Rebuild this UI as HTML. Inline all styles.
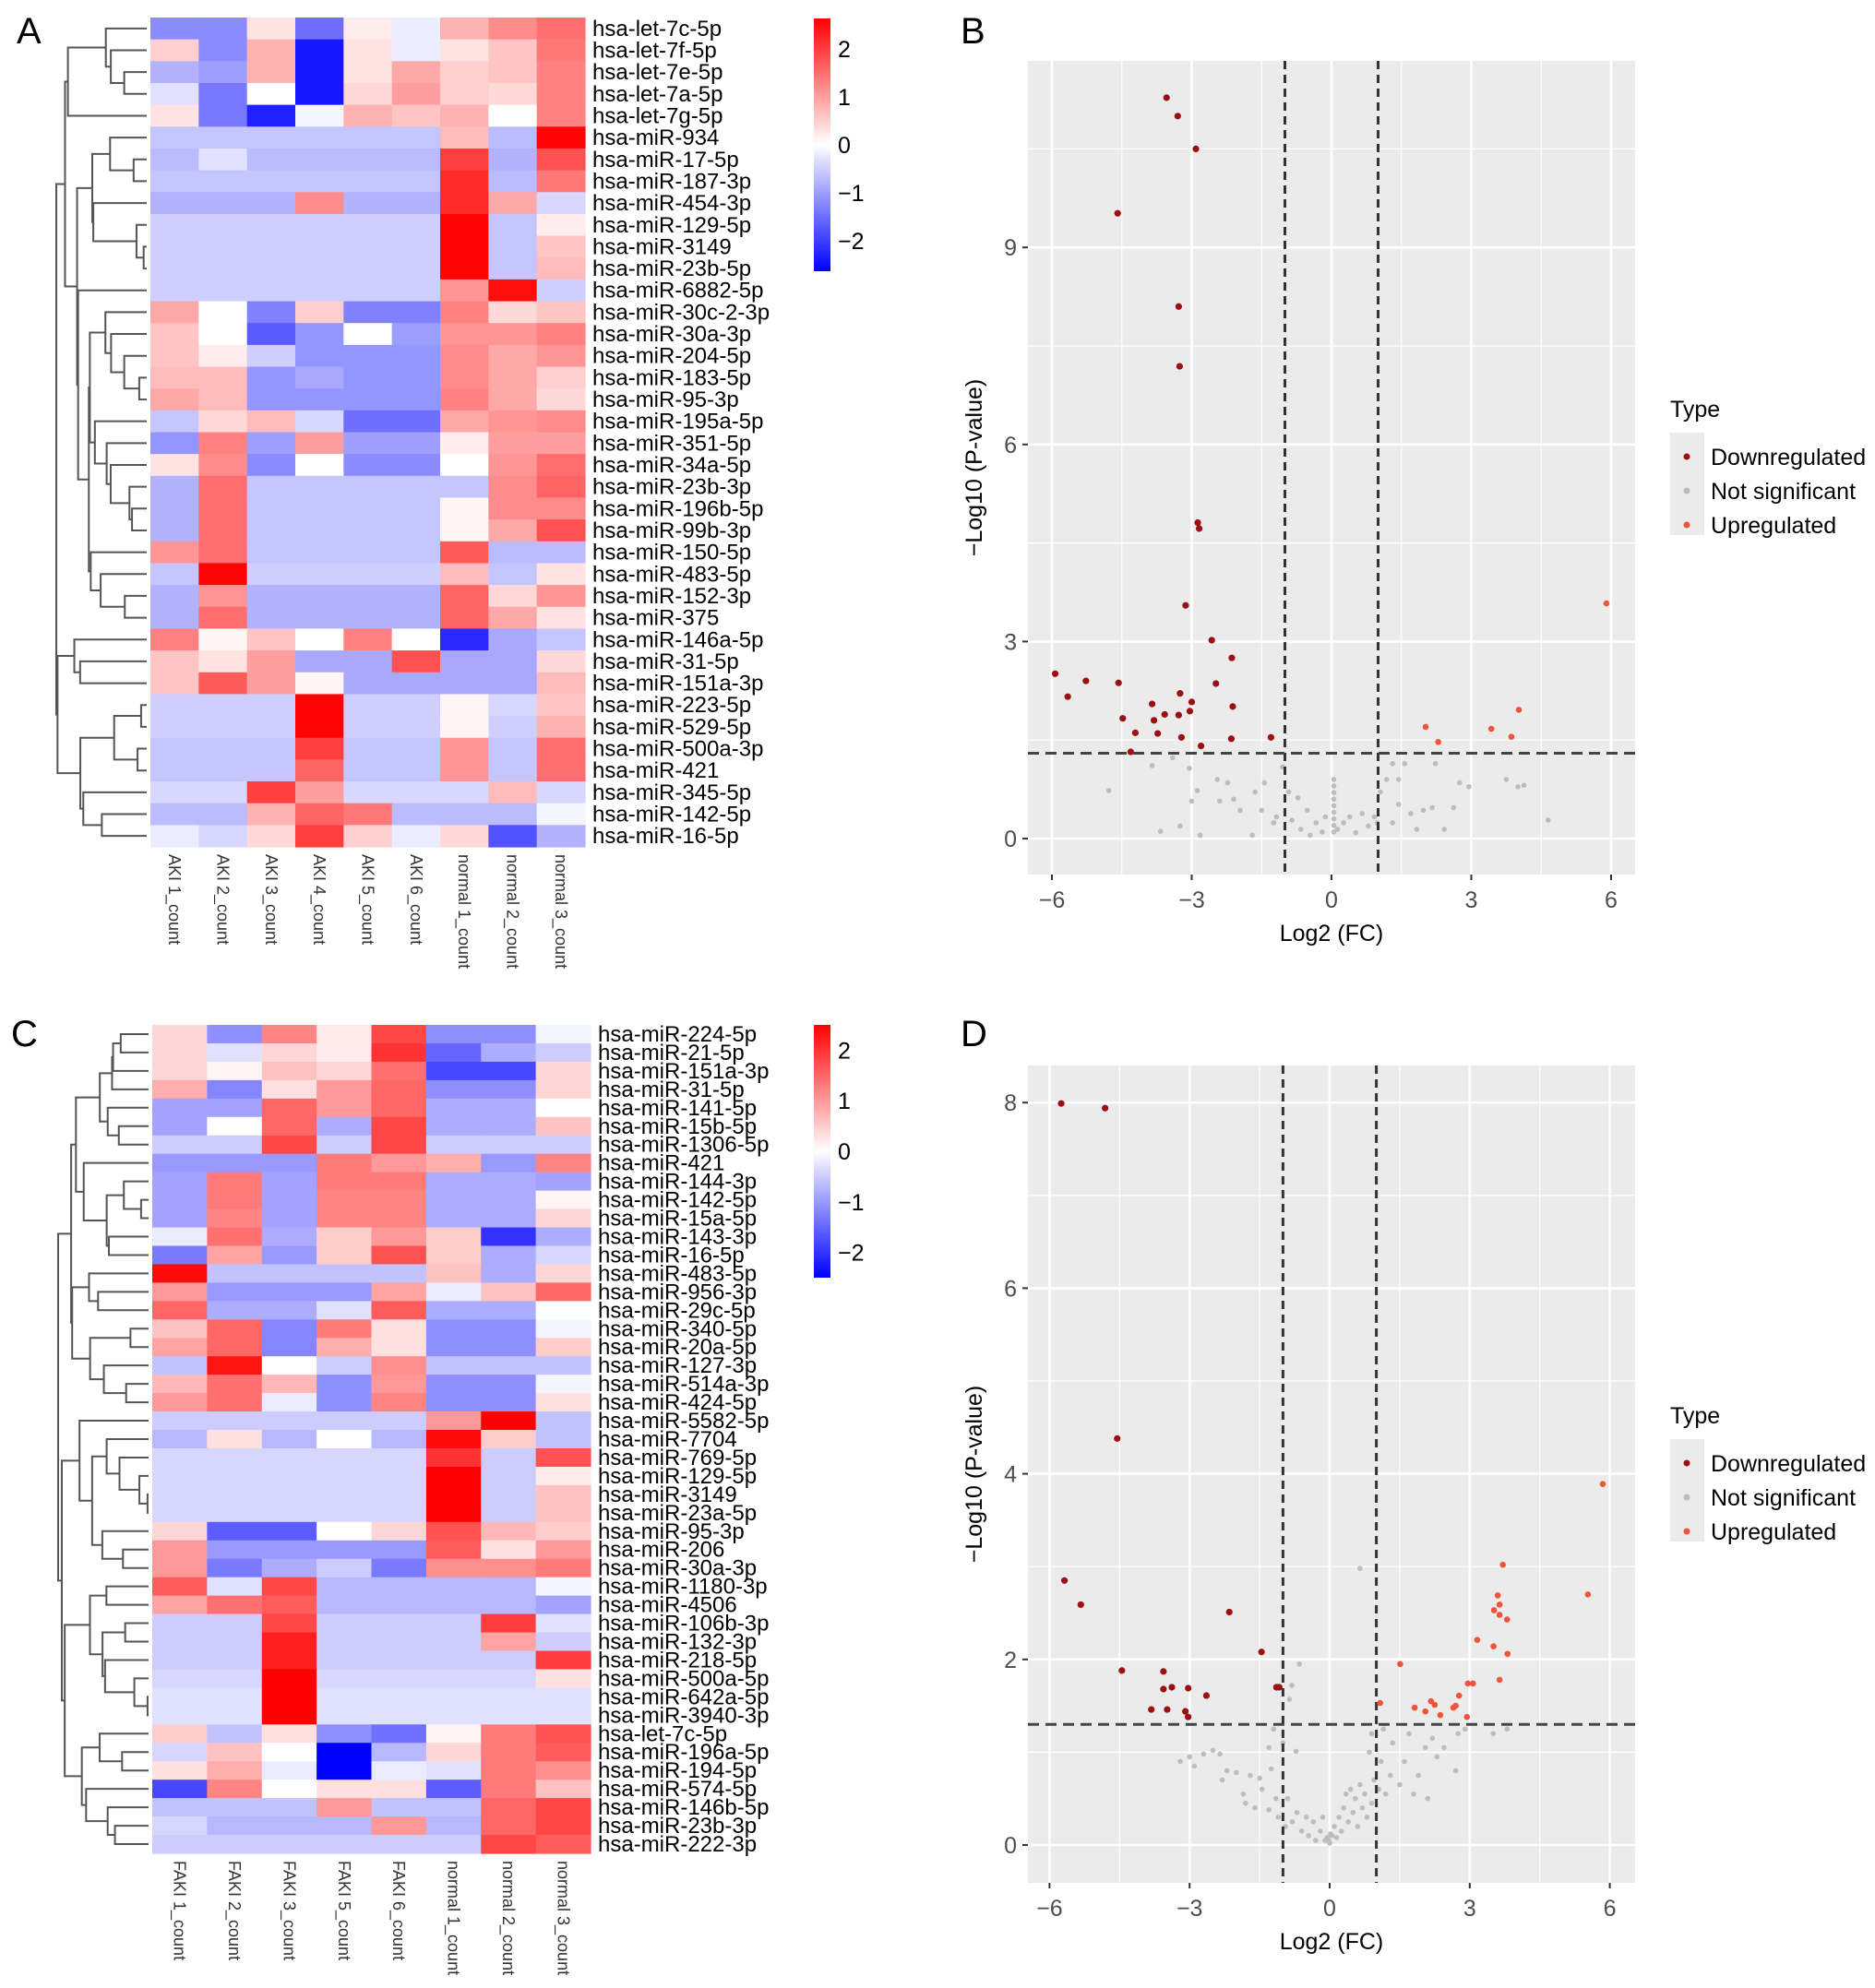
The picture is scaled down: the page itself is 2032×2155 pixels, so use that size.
<!DOCTYPE html>
<html><head><meta charset="utf-8"><title>miRNA heatmaps and volcano plots</title>
<style>
html,body{margin:0;padding:0;background:#fff;}
svg{display:block;font-family:"Liberation Sans",Arial,sans-serif;}
</style></head>
<body>
<svg id="fig" width="2032" height="2155" viewBox="0 0 2032 2155" xmlns="http://www.w3.org/2000/svg">
<text x="18" y="47" font-size="40">A</text>
<text x="1041" y="47" font-size="40">B</text>
<text x="12" y="1134" font-size="40">C</text>
<text x="1041" y="1134" font-size="40">D</text>
<g id="gA"></g>
<g id="gC"></g>
<g id="gB"></g>
<g id="gD"></g>
</svg>
<script>
// ---------- Heatmap A data ----------
const rowsA = ["hsa-let-7c-5p","hsa-let-7f-5p","hsa-let-7e-5p","hsa-let-7a-5p","hsa-let-7g-5p","hsa-miR-934","hsa-miR-17-5p","hsa-miR-187-3p","hsa-miR-454-3p","hsa-miR-129-5p","hsa-miR-3149","hsa-miR-23b-5p","hsa-miR-6882-5p","hsa-miR-30c-2-3p","hsa-miR-30a-3p","hsa-miR-204-5p","hsa-miR-183-5p","hsa-miR-95-3p","hsa-miR-195a-5p","hsa-miR-351-5p","hsa-miR-34a-5p","hsa-miR-23b-3p","hsa-miR-196b-5p","hsa-miR-99b-3p","hsa-miR-150-5p","hsa-miR-483-5p","hsa-miR-152-3p","hsa-miR-375","hsa-miR-146a-5p","hsa-miR-31-5p","hsa-miR-151a-3p","hsa-miR-223-5p","hsa-miR-529-5p","hsa-miR-500a-3p","hsa-miR-421","hsa-miR-345-5p","hsa-miR-142-5p","hsa-miR-16-5p"];
const colsA = ["AKI 1_count","AKI 2_count","AKI 3_count","AKI 4_count","AKI 5_count","AKI 6_count","normal 1_count","normal 2_count","normal 3_count"];
const valsA = [
[-1.2,-1.2,0.3,-1.5,0.2,-0.2,0.8,1.2,1.5],
[0.5,-1.2,0.8,-2.4,0.3,-0.2,0.3,0.6,1.4],
[-0.8,-1,0.8,-2.4,0.3,0.9,0.5,0.6,1.3],
[-0.3,-1.4,0,-2.4,0.4,1.0,0.5,0.4,1.3],
[0.3,-1.4,-2.3,-0.1,0.8,0.6,0.8,0,1.3],
[-0.6,-0.6,-0.6,-0.6,-0.6,-0.6,0.7,-0.7,2.6],
[-0.7,-0.3,-0.7,-0.7,-0.7,-0.7,2.0,-0.8,1.8],
[-0.6,-0.6,-0.6,-0.6,-0.6,-0.6,2.2,-0.7,1.4],
[-0.8,-0.8,-0.8,1.2,-0.8,-0.8,2.2,0.9,-0.4],
[-0.5,-0.5,-0.5,-0.5,-0.5,-0.5,2.6,-0.6,0.2],
[-0.5,-0.5,-0.5,-0.5,-0.5,-0.5,2.6,-0.6,0.6],
[-0.5,-0.5,-0.5,-0.5,-0.5,-0.5,2.6,-0.6,0.7],
[-0.5,-0.5,-0.5,-0.5,-0.5,-0.5,1.1,2.5,-0.5],
[0.9,0,-1.3,0.5,-1.3,-1.3,1.3,0.4,0.6],
[0.6,0,-1.7,-1.1,0,-1.0,1.1,1.1,1.3],
[0.6,0.2,-0.5,-1.1,-1.1,-1.1,1.2,0.9,1.1],
[0.7,0.7,-1.1,-0.9,-1.1,-1.1,1.2,0.9,0.5],
[0.9,0.7,-1.1,-1.1,-1.1,-1.1,1.3,0.9,0.4],
[-0.6,0.4,0.7,-0.4,-1.5,-1.5,0.9,1.1,1.2],
[-1.1,1.3,-1.0,1.0,-1.0,-1.0,0.2,1.0,1.0],
[0.3,1.2,-1.2,0,-1.2,-1.2,0,1.1,1.5],
[-0.8,1.5,-0.6,-0.6,-0.6,-0.6,-0.6,1.2,1.6],
[-0.8,1.5,-0.6,-0.6,-0.6,-0.6,0.1,1.2,1.2],
[-0.8,1.5,-0.6,-0.6,-0.6,-0.6,0.1,0.9,1.8],
[1.1,1.5,-0.6,-0.6,-0.6,-0.6,1.7,-0.7,-0.7],
[-0.6,2.6,-0.5,-0.5,-0.5,-0.5,0.7,-0.6,0.3],
[-0.8,1.1,-0.8,-0.8,-0.8,-0.8,1.6,0.4,1.1],
[-0.8,1.5,-0.8,-0.8,-0.8,-0.8,1.6,0.9,0.3],
[1.3,0.1,0.6,0,1.3,0,-2.2,-0.9,-0.6],
[0.6,0.3,1.0,-0.9,-0.9,1.8,-0.9,-0.9,0.4],
[0.6,1.7,1.0,0.1,-0.9,-0.9,-0.9,-0.9,0.7],
[-0.5,-0.5,-0.5,2.6,-0.5,-0.5,0.1,-0.4,0.6],
[-0.5,-0.5,-0.5,2.6,-0.5,-0.5,0.1,-0.5,0.8],
[-0.6,-0.6,-0.6,2.0,-0.6,-0.6,1.1,-0.6,1.5],
[-0.6,-0.6,-0.6,1.6,-0.6,-0.6,1.1,-0.6,1.5],
[-0.4,-0.4,2.0,1.0,-0.4,-0.4,-0.4,0.7,-0.4],
[-0.7,-0.7,0.8,1.6,1.4,-0.7,-0.7,-0.7,-0.1],
[-0.2,-0.4,0.4,2.0,0.5,-0.2,0.4,-1.8,-0.8]];
// ---------- Heatmap C data ----------
const rowsC = ["hsa-miR-224-5p","hsa-miR-21-5p","hsa-miR-151a-3p","hsa-miR-31-5p","hsa-miR-141-5p","hsa-miR-15b-5p","hsa-miR-1306-5p","hsa-miR-421","hsa-miR-144-3p","hsa-miR-142-5p","hsa-miR-15a-5p","hsa-miR-143-3p","hsa-miR-16-5p","hsa-miR-483-5p","hsa-miR-956-3p","hsa-miR-29c-5p","hsa-miR-340-5p","hsa-miR-20a-5p","hsa-miR-127-3p","hsa-miR-514a-3p","hsa-miR-424-5p","hsa-miR-5582-5p","hsa-miR-7704","hsa-miR-769-5p","hsa-miR-129-5p","hsa-miR-3149","hsa-miR-23a-5p","hsa-miR-95-3p","hsa-miR-206","hsa-miR-30a-3p","hsa-miR-1180-3p","hsa-miR-4506","hsa-miR-106b-3p","hsa-miR-132-3p","hsa-miR-218-5p","hsa-miR-500a-5p","hsa-miR-642a-5p","hsa-miR-3940-3p","hsa-let-7c-5p","hsa-miR-196a-5p","hsa-miR-194-5p","hsa-miR-574-5p","hsa-miR-146b-5p","hsa-miR-23b-3p","hsa-miR-222-3p"];
const colsC = ["FAKI 1_count","FAKI 2_count","FAKI 3_count","FAKI 5_count","FAKI 6_count","normal 1_count","normal 2_count","normal 3_count"];
const valsC = [
[0.4,-1.1,1.2,0.2,1.8,-1.1,-1.1,-0.1],
[0.4,-0.3,0.4,0.2,2.0,-1.5,-0.8,-0.5],
[0.4,0.1,0.6,0.4,1.4,-1.8,-1.8,0.4],
[0.8,-1.2,0.3,1.0,1.5,-1.1,-1.1,0.4],
[-0.9,-0.9,1.5,1.0,1.5,-0.8,-0.8,0],
[-0.9,0,1.5,-0.8,1.8,-0.8,-0.8,0.6],
[-0.5,-0.5,1.8,-0.5,1.8,-0.5,-0.5,-0.5],
[-1.0,-1.0,-1.0,1.3,1.0,0.8,-1.0,1.2],
[-0.9,1.3,-0.9,1.3,1.3,-0.8,-0.8,-0.9],
[-0.9,1.3,-0.9,1.2,1.2,-0.8,-0.8,0.1],
[-0.9,1.2,-0.9,1.2,1.2,-0.8,-0.8,0.4],
[-0.2,1.4,-0.8,0.5,1.0,0.5,-2.0,-0.8],
[-1.3,0.9,-1.0,0.5,1.7,0.5,-0.8,-0.4],
[2.4,-0.6,-0.6,-0.6,-0.6,0.6,-0.8,0.4],
[1.0,-1.0,-1.0,-1.0,0.9,-0.2,0.6,1.5],
[1.5,-0.8,-0.8,-0.3,1.6,-0.8,-0.8,0],
[0.6,1.5,-1.2,1.3,0.3,-1.1,-1.1,-0.1],
[0.9,1.5,-1.2,0.8,0.3,-1.1,-1.1,0.5],
[-0.6,2.3,0,-0.5,1.1,-0.6,-0.6,-0.6],
[0.7,1.4,0.7,-1.1,1.0,-1.1,-1.1,-0.1],
[1.0,1.4,-0.2,-1.1,1.2,-1.1,-1.1,0.3],
[-0.5,-0.5,-0.5,-0.5,-0.5,1.0,2.5,-0.6],
[-0.7,0.3,-0.7,0,-0.7,2.4,0.5,-0.6],
[-0.4,-0.4,-0.4,-0.4,-0.4,2.0,-0.5,1.7],
[-0.4,-0.4,-0.4,-0.4,-0.4,2.6,-0.5,0.2],
[-0.4,-0.4,-0.4,-0.4,-0.4,2.6,-0.5,0.6],
[-0.4,-0.4,-0.4,-0.4,-0.4,2.6,-0.5,0.6],
[0.4,-1.6,-1.6,0,0.4,1.7,0.7,0.5],
[1.0,-1.0,-1.0,-1.0,-1.0,1.6,0.3,1.0],
[1.0,-1.3,-0.8,-0.5,-1.3,1.1,1.1,1.3],
[1.6,-0.3,1.8,-0.7,-0.7,-0.7,-0.7,-0.1],
[0.9,1.4,1.6,-0.7,-0.7,-0.7,-0.7,-0.9],
[-0.5,-0.5,1.8,-0.5,-0.5,-0.5,1.9,-0.3],
[-0.5,-0.5,2.2,-0.5,-0.5,-0.5,0.9,-0.5],
[-0.5,-0.5,2.2,-0.5,-0.5,-0.5,-0.5,1.9],
[-0.4,-0.4,2.6,-0.4,-0.4,-0.4,-0.4,0.3],
[-0.3,-0.3,2.6,-0.3,-0.3,-0.3,-0.3,-0.3],
[-0.3,-0.3,2.6,-0.3,-0.3,-0.3,-0.3,-0.3],
[0.5,-0.6,0.3,-1.1,-1.4,0.1,1.3,1.7],
[-0.4,0.6,0,-2.5,-0.7,0.4,1.3,1.6],
[0.3,0.8,-0.2,-2.5,-0.2,-0.3,1.3,1.1],
[-1.8,1.2,0,0.3,0.3,-1.6,1.3,0.6],
[-0.6,-0.6,-0.6,1.0,-0.6,-0.6,1.5,1.8],
[-0.4,-0.7,-0.7,-0.7,1.0,-0.7,1.5,1.8],
[-0.5,-0.5,-0.5,-0.5,-0.5,-0.5,1.8,1.6]];
const colorTicks = [2,1,0,-1,-2];
const colorTicksC = [2,1,0,-1,-2];

// ---------- Volcano B data ----------
const downB_x = [-3.54,-3.30,-2.91,-4.59,-3.28,-3.26,-2.87,-2.84,-3.13,-2.57,-2.14,-5.93,-5.27,-4.57,-2.48,-5.66,-3.25,-3.0,-3.85,-2.12,-3.04,-3.58,-3.28,-4.48,-3.81,-4.21,-3.73,-3.22,-2.15,-1.30,-2.80,-4.31];
const downB_y = [11.28,11.0,10.5,9.52,8.1,7.19,4.81,4.72,3.55,3.02,2.75,2.51,2.40,2.37,2.36,2.16,2.21,2.08,2.05,2.01,1.94,1.89,1.88,1.83,1.80,1.61,1.60,1.54,1.52,1.54,1.41,1.32];
const upB_x = [5.90,4.02,2.02,3.43,2.29,3.86];
const upB_y = [3.58,1.96,1.70,1.67,1.47,1.55];
const nsB_x = [-4.78,-3.85,-3.67,-3.41,-3.25,-3.05,-3.0,-2.88,-2.82,-2.45,-2.4,-2.23,-2.1,-1.96,-1.7,-1.64,-1.5,-1.44,-1.24,-1.18,-1.05,-0.92,-0.85,-0.72,-0.66,-0.52,-0.46,-0.33,-0.2,-0.13,0.05,0.05,0.05,0.05,0.05,0.05,0.05,0.05,0.05,0.13,0.26,0.39,0.52,0.66,0.79,0.92,1.05,1.18,1.31,1.44,1.57,1.70,1.83,1.97,2.16,2.23,2.42,2.62,2.75,2.95,3.75,4.0,4.13,4.65,1.44,1.31,0.98];
const nsB_y = [0.73,1.11,0.11,1.23,0.19,1.07,0.57,0.73,0.05,0.9,0.57,0.85,0.6,0.43,0.05,0.71,0.43,0.85,0.24,0.33,1.09,0.71,0.28,0.62,0.14,0.43,0.05,0.24,0.1,0.33,0.1,0.2,0.3,0.4,0.5,0.6,0.7,0.8,0.9,0.14,0.24,0.33,0.09,0.38,0.19,0.33,0.71,0.9,1.14,0.9,1.14,0.38,0.14,0.43,0.47,1.14,0.14,0.47,0.85,0.79,0.9,0.79,0.81,0.28,0.52,0.24,0.24];
// ---------- Volcano D data ----------
const downD_x = [-5.75,-4.81,-4.55,-5.68,-5.33,-2.15,-1.46,-4.45,-3.56,-3.56,-3.38,-3.03,-2.64,-1.14,-1.08,-3.82,-3.48,-3.09,-3.03];
const downD_y = [7.99,7.94,4.38,2.85,2.59,2.51,2.08,1.88,1.87,1.68,1.70,1.69,1.61,1.70,1.70,1.46,1.46,1.44,1.38];
const upD_x = [5.85,3.71,5.53,3.60,3.64,3.52,3.64,3.80,3.16,3.51,3.81,1.51,2.96,3.07,3.64,2.77,2.70,2.65,2.17,2.25,1.08,1.82,2.05,2.37,2.94];
const upD_y = [3.89,3.02,2.70,2.69,2.59,2.53,2.48,2.43,2.21,2.14,2.06,1.95,1.74,1.74,1.78,1.61,1.50,1.48,1.55,1.51,1.53,1.48,1.44,1.40,1.38];
const nsD_x = [-3.2,-3.0,-2.9,-2.7,-2.5,-2.35,-2.3,-2.2,-2.0,-1.85,-1.8,-1.7,-1.6,-1.5,-1.45,-1.3,-1.25,-1.2,-1.15,-1.3,-1.1,-0.95,-0.9,-0.8,-0.7,-0.6,-0.5,-0.45,-0.35,-0.3,-0.2,-0.15,-0.1,0,0.05,0.1,0.15,0.2,0.25,0.3,0.35,0.4,0.45,0.5,0.55,0.6,0.65,0.7,0.75,0.8,0.9,0.95,1.05,1.1,1.2,1.3,1.35,1.5,1.6,1.7,1.8,1.9,2.05,2.1,2.2,2.3,2.45,2.7,2.75,2.9,3.5,3.8,0.65,-0.65,-0.81,-0.86,-0.72,0.9,0.85,-1.0,1.15,-0.05,0.02,-0.02];
const nsD_y = [0.9,0.95,0.85,0.98,1.02,0.98,0.7,0.8,0.78,0.55,0.45,0.75,0.4,0.72,0.6,0.38,0.82,1.25,0.5,1.05,0.3,0.2,0.5,0.25,0.35,0.15,0.3,0.1,0.25,0.05,0.15,0.3,0.05,0.02,0.1,0.2,0.08,0.3,0.15,0.4,0.55,0.25,0.6,0.35,0.5,0.2,0.65,0.4,0.55,0.3,0.45,0.7,0.6,0.9,0.55,0.75,1.1,0.65,0.9,1.2,0.55,0.75,1.05,0.5,1.15,0.95,1.05,0.8,1.2,1.25,1.2,1.25,2.98,1.95,1.72,1.57,1.01,1.2,1.0,1.1,1.25,0.08,0.12,0.05];
const ticksB_y = [0,3,6,9];
const ticksD_y = [0,2,4,6,8];
const ticks_x = [-6,-3,0,3,6];
const legendLabels = ["Downregulated","Not significant","Upregulated"];

const NS = "http://www.w3.org/2000/svg";
function mk(tag, attrs, parent){const e=document.createElementNS(NS,tag);for(const k in attrs)e.setAttribute(k,attrs[k]);parent.appendChild(e);return e;}
function heatColor(v, vmax){
  let t=Math.max(-1,Math.min(1,v/vmax));
  let r,g,b;
  if(t>=0){r=255;g=Math.round(255*(1-t));b=g;}else{b=255;r=Math.round(255*(1+t));g=r;}
  return `rgb(${r},${g},${b})`;
}
function drawHeatmap(g, rows, cols, vals, o){
  const nr=rows.length,nc=cols.length,cw=o.w/nc,rh=o.h/nr;
  const xs=c=>o.x+c*cw, ys=r=>o.y+r*rh;
  for(let r=0;r<nr;r++){for(let c=0;c<nc;c++){
    const e=mk('rect',{x:xs(c),y:ys(r),width:cw+0.6,height:rh+0.6,fill:heatColor(vals[r][c],o.vmax)},g);
    
    
  }}
  rows.forEach((lab,r)=>{const t=mk('text',{x:o.x+o.w+8,y:ys(r)+rh/2+8,'font-size':o.fs},g);t.textContent=lab;
    
    });
  cols.forEach((lab,c)=>{const cx=xs(c)+cw/2-6;const t=mk('text',{x:0,y:0,'font-size':18,fill:'#333',transform:`translate(${cx},${o.y+o.h+8}) rotate(90)`},g);t.textContent=lab;
    
    });
  // dendrogram: adjacency-constrained average-linkage clustering
  let cl=rows.map((_,i)=>({m:[i],y:ys(i)+rh/2,h:0}));
  const dist=(a,b)=>{let s=0,n=0;for(const i of a.m)for(const j of b.m){let d=0;for(let c=0;c<nc;c++){const q=vals[i][c]-vals[j][c];d+=q*q;}s+=Math.sqrt(d);n++;}return s/n;};
  const links=[];let maxh=0;
  while(cl.length>1){let bi=0,bd=1e9;for(let i=0;i<cl.length-1;i++){const d=dist(cl[i],cl[i+1]);if(d<bd){bd=d;bi=i;}}
    const a=cl[bi],b=cl[bi+1];const h=Math.max(bd,a.h,b.h)+0.05;maxh=Math.max(maxh,h);
    const n={m:a.m.concat(b.m),y:(a.y+b.y)/2,h:h};links.push([a,b,n]);cl.splice(bi,2,n);}
  const dx=h=>o.x-4-(h/maxh)*o.dw;
  for(const [a,b,n] of links){
    const p=mk('path',{d:`M${dx(a.h)},${a.y}H${dx(n.h)}V${b.y}H${dx(b.h)}`,fill:'none',stroke:'#555','stroke-width':2},g);
    
    
  }
  // colour bar
  const defs=mk('defs',{},g);const gid='grad'+o.id;
  const lg=mk('linearGradient',{id:gid,x1:0,y1:0,x2:0,y2:1},defs);
  [[0,'#ff0000'],[0.5,'#ffffff'],[1,'#0000ff']].forEach(s=>mk('stop',{offset:s[0],'stop-color':s[1]},lg));
  const cb=mk('rect',{x:o.cbx,y:o.cby0,width:18,height:o.cby1-o.cby0,fill:`url(#${gid})`},g);
  
  
  const cmid=(o.cby0+o.cby1)/2,cunit=(o.cby1-o.cby0)/2/o.vmax;
  o.ticks.forEach(v=>{const t=mk('text',{x:o.cbx+26,y:cmid-v*cunit+9,'font-size':25},g);t.textContent=v<0?'\u2212'+(-v):String(v);
    
    });
}
drawHeatmap(document.getElementById('gA'),rowsA,colsA,valsA,{id:'A',x:163,y:19,w:471,h:899,fs:24,vmax:2.64,dw:98,cbx:882,cby0:20,cby1:294,ticks:colorTicks});
drawHeatmap(document.getElementById('gC'),rowsC,colsC,valsC,{id:'C',x:165,y:1111,w:475,h:898,fs:24,vmax:2.5,dw:98,cbx:882,cby0:1111,cby1:1385,ticks:colorTicksC});

function drawVolcano(g,o){
  const X=v=>o.x0+v*o.xu, Y=v=>o.y0-v*o.yu;
  const bg=mk('rect',{x:o.l,y:o.t,width:o.r-o.l,height:o.b-o.t,fill:'#ebebeb'},g);
  
  
  o.minorY.forEach(v=>mk('line',{x1:o.l,x2:o.r,y1:Y(v),y2:Y(v),stroke:'#fff','stroke-width':1.2},g));
  [-4.5,-1.5,1.5,4.5].forEach(v=>mk('line',{x1:X(v),x2:X(v),y1:o.t,y2:o.b,stroke:'#fff','stroke-width':1.2},g));
  o.ticksY.forEach(v=>{mk('line',{x1:o.l,x2:o.r,y1:Y(v),y2:Y(v),stroke:'#fff','stroke-width':2.6},g);
    mk('line',{x1:o.l-6,x2:o.l,y1:Y(v),y2:Y(v),stroke:'#333','stroke-width':2},g);
    const t=mk('text',{x:o.l-12,y:Y(v)+9,'font-size':25,fill:'#4d4d4d','text-anchor':'end'},g);t.textContent=v;
    
    });
  ticks_x.forEach(v=>{mk('line',{x1:X(v),x2:X(v),y1:o.t,y2:o.b,stroke:'#fff','stroke-width':2.6},g);
    mk('line',{x1:X(v),x2:X(v),y1:o.b,y2:o.b+6,stroke:'#333','stroke-width':2},g);
    const t=mk('text',{x:X(v),y:o.b+36,'font-size':25,fill:'#4d4d4d','text-anchor':'middle'},g);t.textContent=v<0?'\u2212'+(-v):String(v);
    
    });
  const pts=(xs,ys,col,r,name)=>xs.forEach((x,i)=>{const c=mk('circle',{cx:X(x),cy:Y(ys[i]),r:r,fill:col},g);
    
    });
  pts(o.nsx,o.nsy,'#bdbdbd',2.8,'point-not-significant');
  [-1,1].forEach(v=>{const l=mk('line',{x1:X(v),x2:X(v),y1:o.t,y2:o.b,stroke:'#333','stroke-width':3,'stroke-dasharray':'9,6'},g);
    
    });
  const hl=mk('line',{x1:o.l,x2:o.r,y1:Y(1.3),y2:Y(1.3),stroke:'#444','stroke-width':3,'stroke-dasharray':'12,7'},g);
  
  
  pts(o.dx,o.dy,'#9b1010',3.6,'point-downregulated');
  pts(o.ux,o.uy,'#f0543a',3.3,'point-upregulated');
  const xt=mk('text',{x:(o.l+o.r)/2,y:o.b+72,'font-size':25,'text-anchor':'middle'},g);xt.textContent='Log2 (FC)';
  
  
  const yt=mk('text',{x:0,y:0,'font-size':25,'text-anchor':'middle',transform:`translate(${o.l-50},${(o.t+o.b)/2}) rotate(-90)`},g);yt.textContent='\u2212Log10 (P-value)';
  
  
  const lt=mk('text',{x:1810,y:o.legY,'font-size':25},g);lt.textContent='Type';
  
  
  mk('rect',{x:1810,y:o.legY+17,width:37,height:111,fill:'#ebebeb'},g);
  const cols=['#9b1010','#bdbdbd','#f0543a'];
  legendLabels.forEach((lab,i)=>{const cy=o.legY+43+i*37;
    const c=mk('circle',{cx:1828,cy:cy,r:3.5,fill:cols[i]},g);
    
    
    const t=mk('text',{x:1854,y:cy+9,'font-size':25},g);t.textContent=lab;
    
    });
}
drawVolcano(document.getElementById('gB'),{l:1114,r:1772,t:66,b:948,x0:1443,xu:50.5,y0:909,yu:71.2,ticksY:ticksB_y,minorY:[1.5,4.5,7.5,10.5],
  nsx:nsB_x,nsy:nsB_y,dx:downB_x,dy:downB_y,ux:upB_x,uy:upB_y,legY:452});
drawVolcano(document.getElementById('gD'),{l:1114,r:1772,t:1155,b:2041,x0:1441,xu:50.6,y0:2000,yu:100.6,ticksY:ticksD_y,minorY:[1,3,5,7],
  nsx:nsD_x,nsy:nsD_y,dx:downD_x,dy:downD_y,ux:upD_x,uy:upD_y,legY:1543});
</script>
</body></html>
